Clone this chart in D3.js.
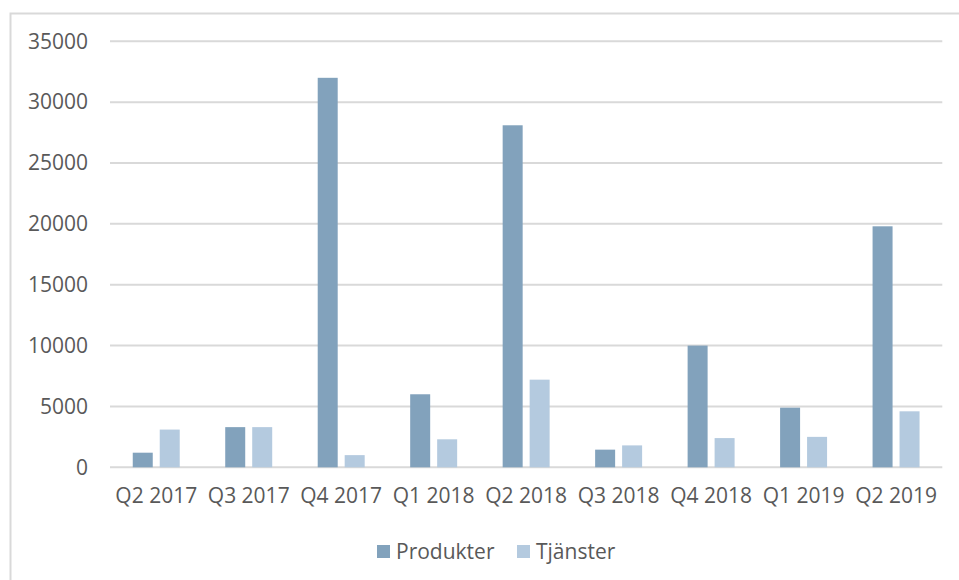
<!DOCTYPE html>
<html><head><meta charset="utf-8">
<script src="https://cdn.jsdelivr.net/npm/d3@7"></script>
<style>
html,body{margin:0;padding:0;background:#fff;}
svg{display:block;}
text{font-family:"Open Sans",sans-serif;fill:#595959;}
</style></head>
<body>
<script>
const categories = ["Q2 2017","Q3 2017","Q4 2017","Q1 2018","Q2 2018","Q3 2018","Q4 2018","Q1 2019","Q2 2019"];
const seriesNames = ["Produkter","Tjänster"];
const produkter = [1200, 3300, 32000, 6000, 28100, 1450, 10000, 4900, 19800];
const tjanster = [3100, 3300, 1000, 2300, 7200, 1800, 2400, 2500, 4600];
const yTicks = [0, 5000, 10000, 15000, 20000, 25000, 30000, 35000];
const colors = ["#82A2BC", "#B4CADF"];

(function(){
const W = 959, H = 580;
const svg = d3.select("body").append("svg").attr("width", W).attr("height", H);

// chart frame
svg.append("rect").attr("x", 10.5).attr("y", 13.5).attr("width", 960).attr("height", 600)
  .attr("fill", "none").attr("stroke", "#D9D9D9").attr("stroke-width", 2);

const pLeft = 110, pRight = 942.3, pTop = 41.3, pBottom = 467.3;
const y = d3.scaleLinear().domain([0, 35000]).range([pBottom, pTop]);
const x0 = d3.scaleBand().domain(categories).range([pLeft, pRight]).paddingInner(0.492).paddingOuter(0.246);
const x1 = d3.scaleBand().domain(seriesNames).range([0, x0.bandwidth()]).paddingInner(0.259);

// gridlines
svg.append("g").selectAll("line").data(yTicks).join("line")
  .attr("x1", pLeft).attr("x2", pRight)
  .attr("y1", d => y(d)).attr("y2", d => y(d))
  .attr("stroke", "#D9D9D9").attr("stroke-width", 2);

// y axis labels
const yAxis = d3.axisLeft(y).tickValues(yTicks).tickSize(0).tickPadding(0).tickFormat(d3.format("d"));
const gy = svg.append("g").attr("transform", `translate(88,0)`).call(yAxis);
gy.select(".domain").remove();
gy.selectAll("text").attr("font-size", 21).attr("font-family", "'Open Sans',sans-serif").attr("fill", "#595959");

// bars
const data = categories.map((c, i) => ({cat: c, vals: [produkter[i], tjanster[i]]}));
const groups = svg.append("g").selectAll("g").data(data).join("g")
  .attr("transform", d => `translate(${x0(d.cat)},0)`);
groups.selectAll("rect").data(d => d.vals.map((v, j) => ({name: seriesNames[j], v, j})))
  .join("rect")
  .attr("x", d => x1(d.name))
  .attr("width", x1.bandwidth())
  .attr("y", d => y(d.v))
  .attr("height", d => y(0) - y(d.v))
  .attr("fill", d => colors[d.j]);

// x axis labels
const xAxis = d3.axisBottom(x0).tickSize(0).tickPadding(0);
const gx = svg.append("g").attr("transform", `translate(0,${pBottom + 21})`).call(xAxis);
gx.select(".domain").remove();
gx.selectAll("text").attr("font-size", 21).attr("font-family", "'Open Sans',sans-serif").attr("fill", "#595959");

// legend
const legendItems = [{name: seriesNames[0], sx: 377, tx: 396}, {name: seriesNames[1], sx: 517, tx: 536}];
const lg = svg.append("g");
legendItems.forEach((it, i) => {
  lg.append("rect").attr("x", it.sx).attr("y", 545).attr("width", 13).attr("height", 13).attr("fill", colors[i]);
  lg.append("text").attr("x", it.tx).attr("y", 559).attr("font-size", 21).text(it.name);
});
})();
</script>
</body></html>
